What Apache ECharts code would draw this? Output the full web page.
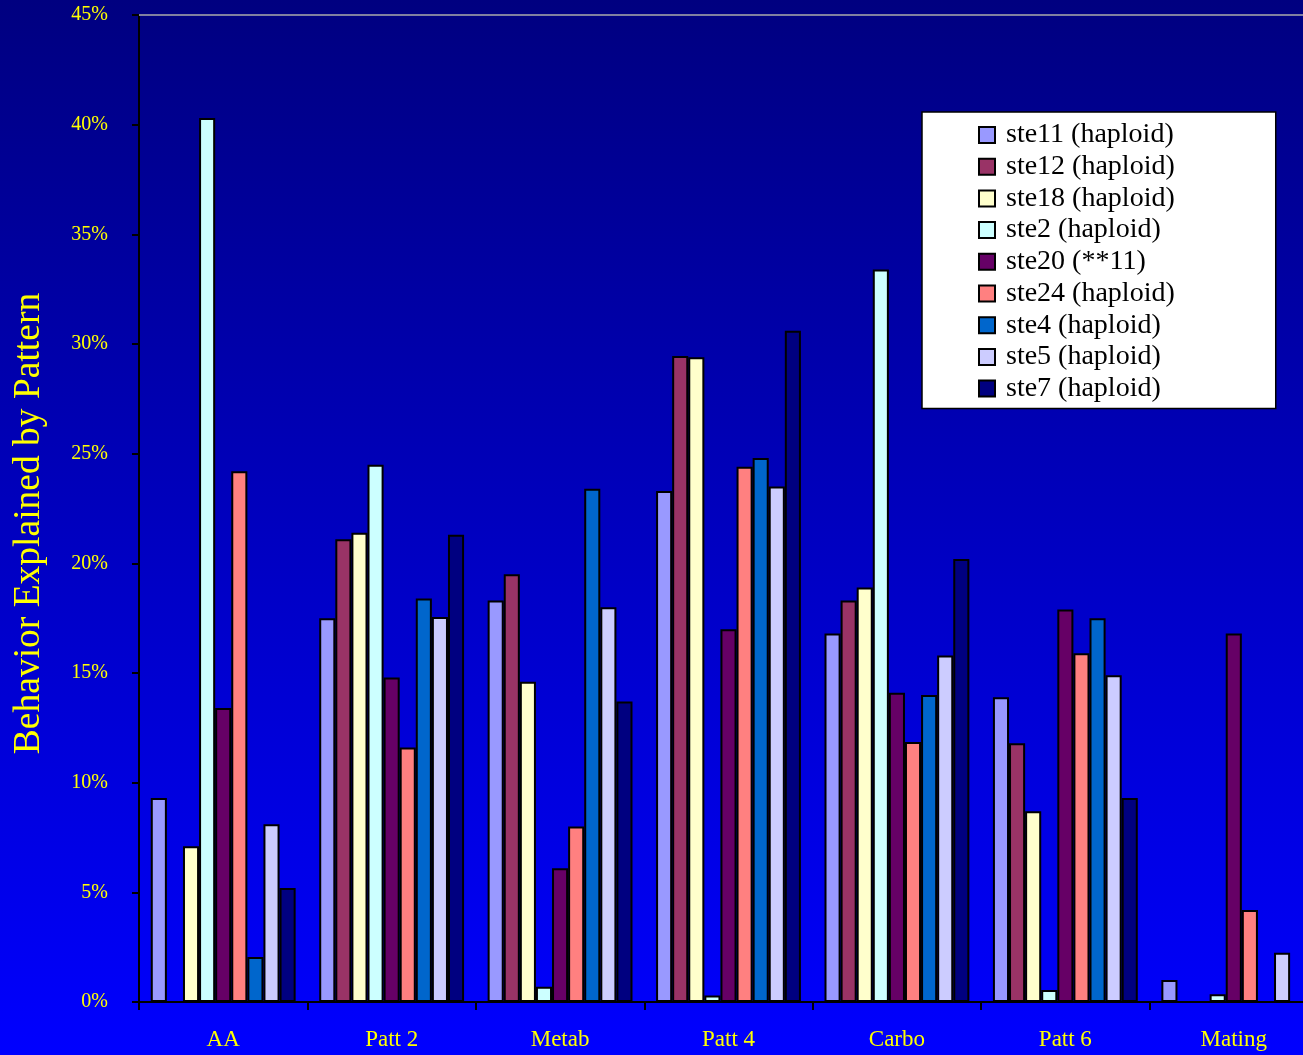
<!DOCTYPE html>
<html>
<head>
<meta charset="utf-8">
<script src="https://cdn.jsdelivr.net/npm/echarts@6/dist/echarts.min.js"></script>
<style>
html, body { margin: 0; padding: 0; }
body { width: 1303px; height: 1055px; overflow: hidden;
  background: linear-gradient(to bottom, #000080 0%, #0000FF 100%); }
#chart { width: 1303px; height: 1055px; }
</style>
</head>
<body>
<div id="chart"></div>
<script>
const categories = ['AA', 'Patt 2', 'Metab', 'Patt 4', 'Carbo', 'Patt 6', 'Mating'];
const seriesNames = ['ste11 (haploid)', 'ste12 (haploid)', 'ste18 (haploid)', 'ste2 (haploid)', 'ste20 (**11)', 'ste24 (haploid)', 'ste4 (haploid)', 'ste5 (haploid)', 'ste7 (haploid)'];
const ste11 = [9.3, 17.5, 18.3, 23.3, 16.8, 13.9, 1.0];
const ste12 = [0, 21.1, 19.5, 29.45, 18.3, 11.8, 0];
const ste18 = [7.1, 21.4, 14.6, 29.4, 18.9, 8.7, 0];
const ste2  = [40.3, 24.5, 0.7, 0.3, 33.4, 0.55, 0.35];
const ste20 = [13.4, 14.8, 6.1, 17.0, 14.1, 17.9, 16.8];
const ste24 = [24.2, 11.6, 8.0, 24.4, 11.85, 15.9, 4.2];
const ste4  = [2.05, 18.4, 23.4, 24.8, 14.0, 17.5, 0];
const ste5  = [8.1, 17.55, 18.0, 23.5, 15.8, 14.9, 2.25];
const ste7  = [5.2, 21.3, 13.7, 30.6, 20.2, 9.3, 0];
const seriesColors = ['#9999FF', '#993366', '#FFFFCC', '#CCFFFF', '#660066', '#FF8080', '#0066CC', '#CCCCFF', '#000080'];
const yTickValues = [0, 5, 10, 15, 20, 25, 30, 35, 40, 45];

const seriesData = [ste11, ste12, ste18, ste2, ste20, ste24, ste4, ste5, ste7];
const FONT = '"Liberation Serif", "Times New Roman", serif';

const chart = echarts.init(document.getElementById('chart'), null, { renderer: 'canvas' });
chart.setOption({
  backgroundColor: 'transparent',
  animation: false,
  grid: { left: 139, top: 15, right: -15, bottom: 53, containLabel: false, outerBoundsMode: 'none' },
  legend: {
    orient: 'vertical',
    left: 922, top: 112,
    backgroundColor: '#FFFFFF',
    borderColor: '#000000',
    borderWidth: 1.5,
    padding: [9, 101, 6, 56],
    itemWidth: 16, itemHeight: 16,
    itemGap: 3.7,
    icon: 'rect',
    data: seriesNames,
    textStyle: { fontFamily: FONT, fontSize: 28, color: '#000000', padding: [0, 0, 0, 6] }
  },
  xAxis: [{
    type: 'category',
    data: categories,
    position: 'bottom',
    axisLine: { show: true, lineStyle: { color: '#000000', width: 2 } },
    axisTick: { show: true, length: 8, lineStyle: { color: '#000000', width: 2 } },
    axisLabel: { fontFamily: FONT, fontSize: 23, color: '#FFFF00', margin: 26 },
    splitLine: { show: false }
  }, {
    type: 'category',
    data: categories,
    position: 'top',
    axisLine: { show: true, lineStyle: { color: '#8080A0', width: 2 } },
    axisTick: { show: false },
    axisLabel: { show: false }
  }],
  yAxis: {
    type: 'value',
    min: 0, max: 45, interval: 5,
    name: 'Behavior Explained by Pattern',
    nameLocation: 'middle',
    nameGap: 91,
    nameRotate: 90,
    nameTextStyle: { fontFamily: FONT, fontSize: 37.5, color: '#FFFF00', padding: [0, 30, 0, 0] },
    axisLine: { show: true, lineStyle: { color: '#000000', width: 2 } },
    axisTick: { show: true, inside: false, length: 7, lineStyle: { color: '#000000', width: 2 } },
    axisLabel: { fontFamily: FONT, fontSize: 20, color: '#FFFF00', margin: 31,
      formatter: function (v) { return yTickValues.indexOf(v) >= 0 ? v + '%' : ''; } },
    splitLine: { show: false }
  },
  series: seriesNames.map(function (name, i) {
    return {
      name: name,
      type: 'bar',
      data: seriesData[i],
      barGap: '0%',
      barCategoryGap: '14%',
      itemStyle: { color: seriesColors[i], borderColor: '#000000', borderWidth: 2 }
    };
  })
});
</script>
</body>
</html>
